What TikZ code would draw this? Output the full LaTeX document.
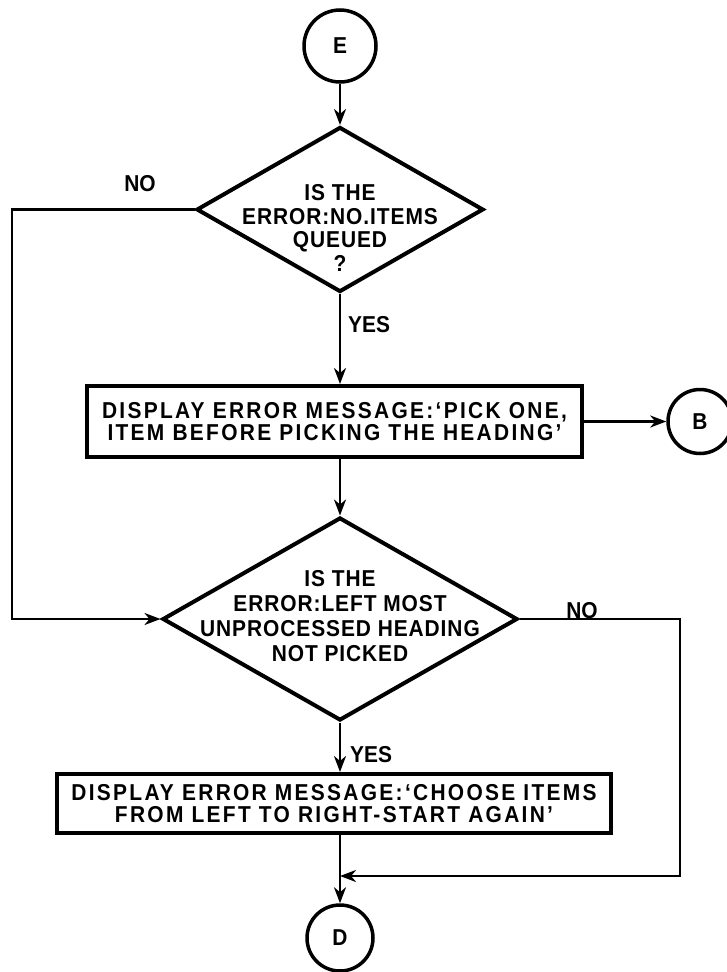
\documentclass[tikz,border=0pt]{standalone}
\usepackage{fontspec}
\setmainfont{Liberation Sans}[FakeStretch=0.91]
\newfontfamily\rectfont{Liberation Sans}[LetterSpace=10,FakeStretch=0.91]
\newfontfamily\diafont{Liberation Sans}[LetterSpace=4,FakeStretch=0.91]
\usetikzlibrary{shapes.geometric,arrows.meta}
\begin{document}
\begin{tikzpicture}[x=1pt,y=-1pt,
  every node/.style={font=\fontsize{23}{23.5}\selectfont\bfseries},
  conn/.style={line width=2.5pt,-{Stealth[length=16pt,width=12pt,inset=5pt]}},
  circ/.style={circle,draw,line width=3.5pt,inner sep=0pt},
  decision/.style={diamond,draw,line width=4pt,inner sep=0pt},
  process/.style={rectangle,draw,line width=4pt,inner sep=2pt,align=center},
  diatext/.style={align=center,inner sep=0pt},
  lbl/.style={inner sep=0pt}]
\useasboundingbox (0,0) rectangle (726,972);

% nodes
\node[circ,minimum size=72pt] (E) at (340,46) {E};
\node[decision,minimum width=287pt,minimum height=165pt] (d1) at (340,209.5) {};
\node[diatext,font=\fontsize{23}{23.7}\selectfont\bfseries\diafont] (t1) at (340,228) {IS THE\\ERROR:NO.ITEMS\\QUEUED\\?};
\node[process,minimum width=495pt,minimum height=71pt,font=\fontsize{23}{22.5}\selectfont\bfseries\rectfont] (r1) at (334.5,421.5) {DISPLAY ERROR MESSAGE:‘PICK ONE,\\ITEM BEFORE PICKING THE HEADING’};
\node[circ,minimum size=64pt] (B) at (700,421.5) {B};
\node[decision,minimum width=355pt,minimum height=203pt] (d2) at (340,619) {};
\node[diatext,font=\fontsize{23}{25}\selectfont\bfseries\diafont] (t2) at (340,616) {IS THE\\ERROR:LEFT MOST\\UNPROCESSED HEADING\\NOT PICKED};
\node[process,minimum width=554pt,minimum height=59pt,font=\fontsize{23}{22.5}\selectfont\bfseries\rectfont] (r2) at (334,803.5) {DISPLAY ERROR MESSAGE:‘CHOOSE ITEMS\\FROM LEFT TO RIGHT-START AGAIN’};
\node[circ,minimum size=66pt] (D) at (340,938) {D};

% labels
\node[lbl,anchor=west] (yes1) at (348,325) {YES};
\node[lbl,anchor=west] (yes2) at (350,755) {YES};
\node[lbl] (no1) at (140,184) {NO};
\node[lbl] (no2) at (582,611) {NO};

% helper coordinates
\coordinate (lx) at (12,0);
\coordinate (rx) at (680,0);
\coordinate (jn) at (340,876);

% connectors
\draw[conn] (E.south) -- (d1.north);
\draw[conn] (d1.south) -- (d1.south |- r1.north);
\draw[conn] (r1.east) -- (B.west);
\draw[conn] (d2.north |- r1.south) -- (d2.north);
\draw[conn] (d1.west) -| (lx |- d2.west) -- (d2.west);
\draw[conn] (d2.south) -- (d2.south |- r2.north);
\draw[conn] (d2.east) -| (rx |- jn) -- (jn);
\draw[conn] (D.north |- r2.south) -- (D.north);
\end{tikzpicture}
\end{document}
